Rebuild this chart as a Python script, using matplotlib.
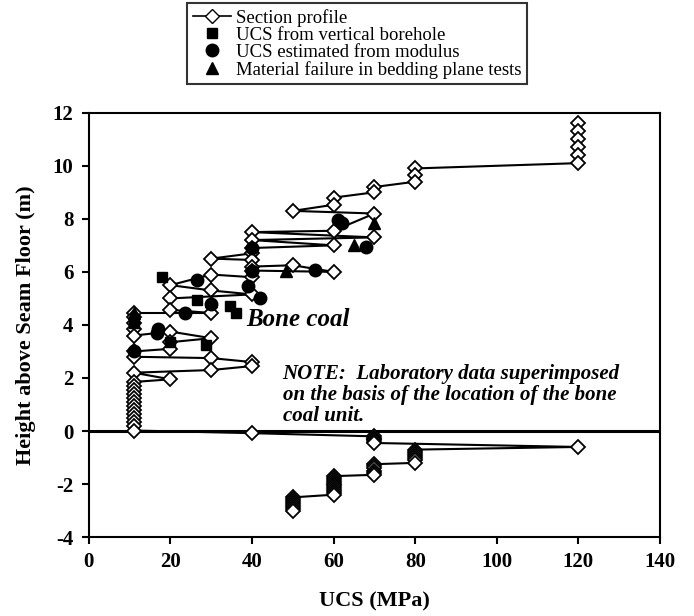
import matplotlib
matplotlib.use("Agg")
import matplotlib.pyplot as plt
from matplotlib.lines import Line2D

# section profile, listed from the top of the section down (UCS MPa, height m)
profile_ucs = [120, 120, 120, 120, 120, 120,
               80, 80, 80, 70, 70, 60, 60, 50, 70,
               60, 40, 70, 40, 60, 40, 40, 30, 40, 40, 50, 60, 40, 40, 30,
               20, 30, 40, 20, 20, 30, 11, 11, 11, 11, 11,
               20, 30, 20, 20, 11, 11, 30, 40, 40, 30, 11, 20,
               11, 11, 11, 11, 11, 11, 11, 11, 11, 11, 11, 11, 11,
               40, 70, 70, 70, 70, 70, 70, 120,
               80, 80, 80, 80, 80, 80, 80,
               70, 70, 70, 70, 70, 70,
               60, 60, 60, 60, 60, 60, 60, 60, 60, 60, 60,
               50, 50, 50, 50, 50, 50, 50, 50]
profile_h = [11.6, 11.3, 11.0, 10.7, 10.4, 10.1,
             9.9, 9.65, 9.4, 9.2, 9.0, 8.8, 8.53, 8.3, 8.2,
             7.55, 7.5, 7.3, 7.2, 7.0, 6.9, 6.7, 6.5, 6.45, 6.2, 6.25, 6.0, 6.05, 5.8, 5.9,
             5.5, 5.3, 5.15, 5.0, 4.57, 4.45, 4.45, 4.3, 4.07, 3.85, 3.6,
             3.75, 3.5, 3.35, 3.1, 3.0, 2.8, 2.75, 2.6, 2.45, 2.3, 2.2, 1.95,
             1.85, 1.7, 1.55, 1.4, 1.25, 1.1, 0.95, 0.8, 0.65, 0.5, 0.35, 0.2, 0.02,
             -0.08, -0.2, -0.25, -0.3, -0.35, -0.4, -0.45, -0.6,
             -0.7, -0.78, -0.86, -0.94, -1.02, -1.1, -1.2,
             -1.25, -1.33, -1.41, -1.49, -1.57, -1.65,
             -1.7, -1.77, -1.84, -1.91, -1.98, -2.05, -2.12, -2.19, -2.26, -2.33, -2.4,
             -2.5, -2.57, -2.64, -2.71, -2.78, -2.85, -2.92, -3.0]

# laboratory data
borehole_ucs = [17.9, 26.5, 34.5, 36, 28.7, 11, 20]
borehole_h = [5.8, 4.95, 4.7, 4.45, 3.25, 4.07, 3.35]
modulus_ucs = [26.5, 39, 42, 23.5, 30, 16.7, 17, 40, 40, 55.4, 61, 62, 68, 11]
modulus_h = [5.7, 5.45, 5.0, 4.45, 4.8, 3.7, 3.85, 6.9, 6.05, 6.07, 7.95, 7.85, 6.95, 3.0]
bedding_ucs = [70, 65, 48.3, 11, 30]
bedding_h = [7.85, 7.0, 6.05, 4.45, 4.9]

plt.rcParams["font.family"] = "Liberation Serif"
plt.rcParams["axes.unicode_minus"] = False

fig = plt.figure(figsize=(6.94, 6.16), dpi=100)
ax = fig.add_axes([0.128, 0.128, 0.823, 0.689])

ax.axhline(0, color="black", lw=2.2, zorder=1)
ax.plot(profile_ucs, profile_h, "-", color="black", lw=1.5, zorder=2)
ax.plot(profile_ucs, profile_h, "D", mfc="white", mec="black", mew=1.3, ms=7.5,
        ls="none", zorder=3)
ax.plot(borehole_ucs, borehole_h, "s", color="black", ms=7, ls="none", zorder=4)
ax.plot(modulus_ucs, modulus_h, "o", color="black", ms=9, ls="none", zorder=4)
ax.plot(bedding_ucs, bedding_h, "^", color="black", ms=8, ls="none", zorder=4)

ax.set_xlim(0, 140)
ax.set_ylim(-4, 12)
ax.set_xticks(range(0, 141, 20))
ax.set_yticks(range(-4, 13, 2))
ax.tick_params(direction="out", length=5, width=1.5, labelsize=15, pad=6)
for lab in ax.get_xticklabels() + ax.get_yticklabels():
    lab.set_fontweight("bold")
for sp in ax.spines.values():
    sp.set_linewidth(1.5)
ax.set_xlabel("UCS (MPa)", fontsize=16, fontweight="bold", labelpad=14)
ax.set_ylabel("Height above Seam Floor (m)", fontsize=16, fontweight="bold", labelpad=12)

ax.text(38.7, 4.2, "Bone coal", fontsize=18, fontweight="bold", style="italic", va="center")
ax.text(47.5, 1.36, "NOTE:  Laboratory data superimposed\non the basis of the location of the bone\ncoal unit.",
        fontsize=15, fontweight="bold", style="italic", va="center", linespacing=1.05)

handles = [
    Line2D([], [], color="black", lw=1.2, marker="D", mfc="white", mec="black", ms=7),
    Line2D([], [], color="black", marker="s", ls="none", ms=7),
    Line2D([], [], color="black", marker="o", ls="none", ms=9),
    Line2D([], [], color="black", marker="^", ls="none", ms=8),
]
labels = ["Section profile", "UCS from vertical borehole", "UCS estimated from modulus",
          "Material failure in bedding plane tests"]
leg = fig.legend(handles, labels, loc="upper center", bbox_to_anchor=(0.515, 0.995),
                 frameon=True, fancybox=False, edgecolor="black", fontsize=13.5,
                 handlelength=2.0, handletextpad=0.3, labelspacing=0.0,
                 borderpad=0.3, borderaxespad=0)
leg.get_frame().set_linewidth(1.5)

fig.savefig("out.png", dpi=100)
